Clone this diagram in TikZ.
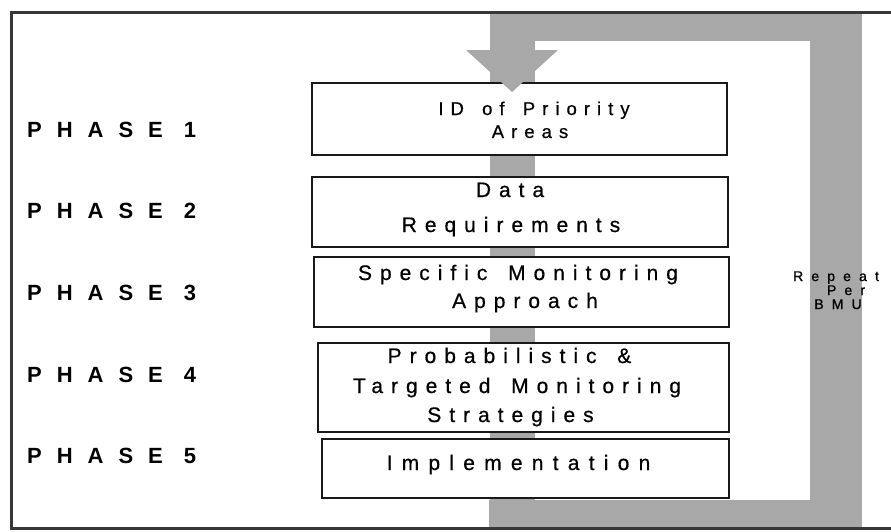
\documentclass[tikz,border=0pt]{standalone}
\usepackage{fontspec}
\setmainfont{Liberation Sans}
\newfontfamily\boxfont[LetterSpace=38,WordSpace=1.5,FakeBold=0.6]{Liberation Sans}
\newfontfamily\implfont[LetterSpace=44,FakeBold=0.6]{Liberation Sans}
\newfontfamily\phasefont[LetterSpace=68]{Liberation Sans}
\newfontfamily\repfont[LetterSpace=58,FakeBold=1]{Liberation Sans}
\definecolor{loopgray}{RGB}{168,168,168}
\definecolor{framegray}{RGB}{55,55,55}
\definecolor{boxline}{RGB}{25,25,25}
\tikzset{
  stepbox/.style={draw=boxline, line width=1.4pt, fill=white, inner sep=0pt},
  boxtext/.style={anchor=base, inner sep=0pt, font=\boxfont\fontsize{21}{22}\selectfont},
  impltext/.style={anchor=base, inner sep=0pt, font=\implfont\fontsize{21}{22}\selectfont},
  smallboxtext/.style={anchor=base, inner sep=0pt, font=\boxfont\fontsize{18.5}{20}\selectfont},
  phaselabel/.style={anchor=base west, inner sep=0pt, font=\phasefont\bfseries\fontsize{22}{23}\selectfont},
  reptext/.style={anchor=base, inner sep=0pt, font=\repfont\fontsize{14}{15}\selectfont},
}
\begin{document}
\begin{tikzpicture}[x=1pt,y=-1pt]
\useasboundingbox (0,0) rectangle (891,531);
\fill[white] (0,0) rectangle (891,531);
% gray repeat loop
\fill[loopgray] (490,13) rectangle (862,41);
\fill[loopgray] (810,13) rectangle (862,527);
\fill[loopgray] (489,500) rectangle (862,527);
\fill[loopgray] (490,41) rectangle (535,500);
% frame
\draw[framegray, line width=3pt] (891,12) -- (11,12) -- (11,528) -- (891,528);
% boxes
\node[stepbox, minimum width=415, minimum height=72] (b1) at (519.5,119) {};
\node[stepbox, minimum width=416, minimum height=70] (b2) at (520,212) {};
\node[stepbox, minimum width=415, minimum height=70] (b3) at (521.5,292) {};
\node[stepbox, minimum width=411, minimum height=89] (b4) at (523.5,387.5) {};
\node[stepbox, minimum width=407, minimum height=59] (b5) at (525.5,468.5) {};
% arrowhead into the first box
\fill[loopgray] (466,50) -- (558,50) -- (512,92) -- cycle;
% box texts
\node[smallboxtext] (t1a) at (534,115) {ID of Priority};
\node[smallboxtext] (t1b) at (530,138) {Areas};
\node[boxtext] (t2a) at (510,197) {Data};
\node[boxtext] (t2b) at (511,232) {Requirements};
\node[boxtext] (t3a) at (518,280) {Specific Monitoring};
\node[boxtext] (t3b) at (525,308) {Approach};
\node[boxtext] (t4a) at (509.5,363) {Probabilistic \&};
\node[boxtext] (t4b) at (517,393) {Targeted Monitoring};
\node[boxtext] (t4c) at (510.5,422) {Strategies};
\node[impltext] (t5a) at (518.5,470) {Implementation};
% phase labels
\node[phaselabel] (p1) at (27,137) {PHASE 1};
\node[phaselabel] (p2) at (27,218) {PHASE 2};
\node[phaselabel] (p3) at (27,300) {PHASE 3};
\node[phaselabel] (p4) at (27,382) {PHASE 4};
\node[phaselabel] (p5) at (27,463) {PHASE 5};
% repeat label
\node[reptext] (r1) at (836,281) {Repeat};
\node[reptext] (r2) at (846,295) {Per};
\node[reptext] (r3) at (838,309) {BMU};
\end{tikzpicture}
\end{document}
